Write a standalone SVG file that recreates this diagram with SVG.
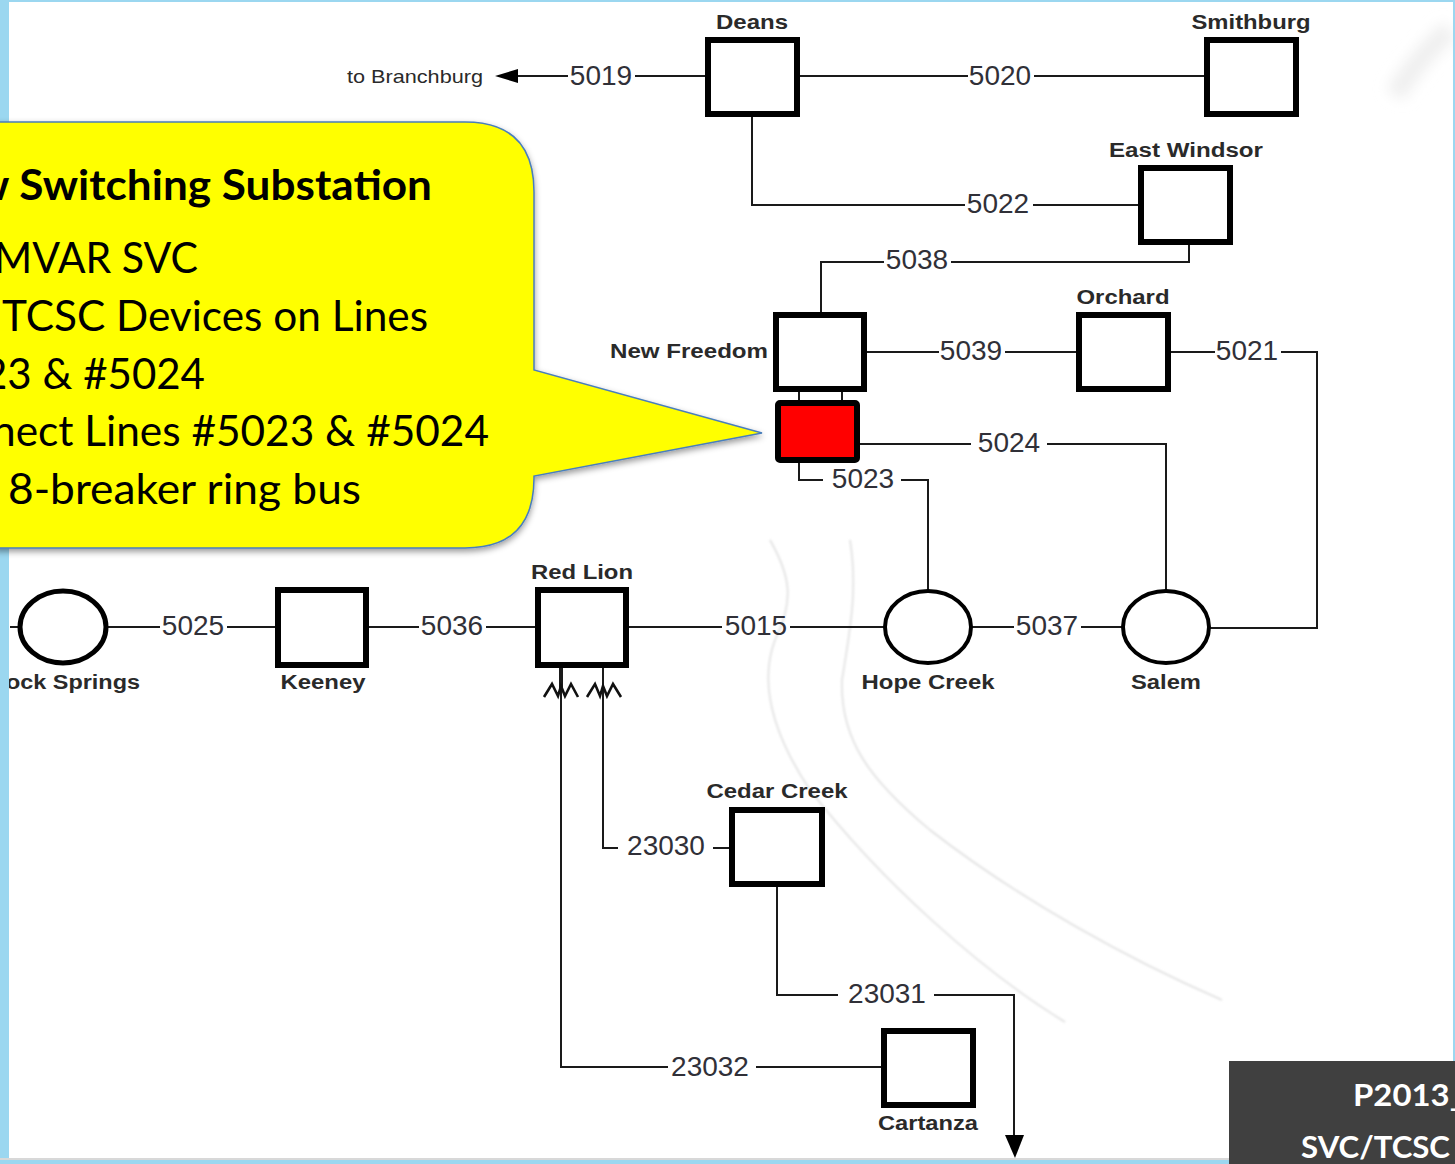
<svg xmlns="http://www.w3.org/2000/svg" width="1455" height="1164" viewBox="0 0 1455 1164">
<style>
.bus{fill:#fff;stroke:#000;stroke-width:6}
.ln{fill:none;stroke:#1a1a1a;stroke-width:2}
.zig{fill:none;stroke:#111;stroke-width:2.6}
.num{font-family:"Liberation Sans",Arial,sans-serif;font-size:28px;fill:#303038;text-anchor:middle}
.name{font-family:"Liberation Sans",Arial,sans-serif;font-size:20px;font-weight:bold;fill:#2a2a2a;text-anchor:middle}
.call{font-family:Lato,"Noto Sans",sans-serif;font-size:42px;fill:#000}
.foot{font-family:Lato,"Noto Sans",sans-serif;font-size:31px;font-weight:bold;fill:#fff}
.smudge{fill:none;stroke:#c9c9c9;stroke-width:1.6;opacity:.6}
</style>
<defs>
<filter id="sh" x="-10%" y="-10%" width="120%" height="120%"><feDropShadow dx="0" dy="3" stdDeviation="3" flood-color="#000" flood-opacity=".4"/></filter>
<filter id="blur" x="-20%" y="-20%" width="140%" height="140%"><feGaussianBlur stdDeviation="1"/></filter>
<filter id="blur2" x="-50%" y="-50%" width="200%" height="200%"><feGaussianBlur stdDeviation="7"/></filter>
</defs>
<rect width="1455" height="1164" fill="#fff"/>
<g id="smudges">
<g filter="url(#blur)">
<path class="smudge" d="M770 540C790 575 795 600 775 640C760 680 770 730 810 790C880 880 980 970 1065 1022"/>
<path class="smudge" d="M850 540C858 590 850 630 842 680C840 740 870 780 930 830C1020 900 1130 960 1222 1000"/>
</g>
<path d="M1395 95Q1420 55 1450 30" fill="none" stroke="#efefef" stroke-width="20" filter="url(#blur2)"/>
</g>
<g id="connectors">
<path class="ln" d="M568 76H510"/>
<path class="ln" d="M635 76H708M797 76H968M1034 76H1207"/>
<path class="ln" d="M752 114V205H965M1033 205H1141"/>
<path class="ln" d="M821 315V262H884M951 262H1189V242"/>
<path class="ln" d="M864 352H939M1005 352H1079"/>
<path class="ln" d="M1168 352H1215M1281 352H1317V628H1210"/>
<path class="ln" d="M858 444H971M1047 444H1166V590"/>
<path class="ln" d="M799 460V480H823M901 480H928V590"/>
<path class="ln" d="M799 389V402M842 389V402"/>
<path class="ln" d="M10 627H19M107 627H160M227 627H278M366 627H419M486 627H538M626 627H722M790 627H884M972 627H1014M1081 627H1122"/>
<path class="ln" d="M561 665V1067H668M756 1067H884"/>
<path class="ln" d="M561 665V690" style="stroke-width:4"/>
<path class="ln" d="M603 665V848H618M713 848H732"/>
<path class="ln" d="M777 884V995H838M934 995H1014V1140"/>
<path d="M1005 1135H1024L1015 1158Z" fill="#000"/>
<path d="M495 76L518 69V83Z" fill="#000"/>
<path class="zig" d="M544 697L552 684L558 696L561 686L565 696L571 684L578 697M587 697L595 684L600 696L603 686L607 696L613 684L621 697"/>
<text class="num" x="601" y="85">5019</text>
<text class="num" x="1000" y="85">5020</text>
<text class="num" x="998" y="213">5022</text>
<text class="num" x="917" y="269">5038</text>
<text class="num" x="971" y="360">5039</text>
<text class="num" x="1247" y="360">5021</text>
<text class="num" x="1009" y="452">5024</text>
<text class="num" x="863" y="488">5023</text>
<text class="num" x="193" y="635">5025</text>
<text class="num" x="452" y="635">5036</text>
<text class="num" x="756" y="635">5015</text>
<text class="num" x="1047" y="635">5037</text>
<text class="num" x="666" y="855">23030</text>
<text class="num" x="887" y="1003">23031</text>
<text class="num" x="710" y="1076">23032</text>
</g>
<g id="node-branchburg"><text x="415" y="83" style="font-family:'Liberation Sans',Arial,sans-serif;font-size:19px;fill:#2a2a2a;text-anchor:middle" textLength="136" lengthAdjust="spacingAndGlyphs">to Branchburg</text></g>
<g id="node-deans"><rect class="bus" x="708" y="40" width="89" height="74"/><text class="name" x="752" y="29" textLength="72" lengthAdjust="spacingAndGlyphs">Deans</text></g>
<g id="node-smithburg"><rect class="bus" x="1207" y="40" width="89" height="74"/><text class="name" x="1251" y="29" textLength="119" lengthAdjust="spacingAndGlyphs">Smithburg</text></g>
<g id="node-east-windsor"><rect class="bus" x="1141" y="168" width="89" height="74"/><text class="name" x="1186" y="157" textLength="154" lengthAdjust="spacingAndGlyphs">East Windsor</text></g>
<g id="node-new-freedom"><rect class="bus" x="776" y="315" width="88" height="74"/><text class="name" x="689" y="358" textLength="158" lengthAdjust="spacingAndGlyphs">New Freedom</text></g>
<g id="node-orchard"><rect class="bus" x="1079" y="315" width="89" height="74"/><text class="name" x="1123" y="304" textLength="93" lengthAdjust="spacingAndGlyphs">Orchard</text></g>
<g id="node-svc"><rect x="778" y="403" width="79" height="57" rx="2" fill="#f00" stroke="#000" stroke-width="6"/></g>
<g id="node-rock-springs"><ellipse class="bus" cx="63" cy="627" rx="43" ry="36" style="stroke-width:5"/><text class="name" x="73" y="689" textLength="134" lengthAdjust="spacingAndGlyphs">ock Springs</text></g>
<g id="node-keeney"><rect class="bus" x="278" y="590" width="88" height="75"/><text class="name" x="323" y="689" textLength="85" lengthAdjust="spacingAndGlyphs">Keeney</text></g>
<g id="node-red-lion"><rect class="bus" x="538" y="590" width="88" height="75"/><text class="name" x="582" y="579" textLength="102" lengthAdjust="spacingAndGlyphs">Red Lion</text></g>
<g id="node-hope-creek"><ellipse class="bus" cx="928" cy="627" rx="43" ry="36" style="stroke-width:4"/><text class="name" x="928" y="689" textLength="133" lengthAdjust="spacingAndGlyphs">Hope Creek</text></g>
<g id="node-salem"><ellipse class="bus" cx="1166" cy="627" rx="43" ry="36" style="stroke-width:4"/><text class="name" x="1166" y="689" textLength="70" lengthAdjust="spacingAndGlyphs">Salem</text></g>
<g id="node-cedar-creek"><rect class="bus" x="732" y="810" width="90" height="74"/><text class="name" x="777" y="798" textLength="141" lengthAdjust="spacingAndGlyphs">Cedar Creek</text></g>
<g id="node-cartanza"><rect class="bus" x="884" y="1031" width="89" height="74"/><text class="name" x="928" y="1130" textLength="100" lengthAdjust="spacingAndGlyphs">Cartanza</text></g>
<g id="frame">
<rect x="0" y="0" width="1455" height="2" fill="#9bd7f0"/>
<rect x="0" y="0" width="9" height="1164" fill="#9bd7f0"/>
<rect x="1453" y="0" width="2" height="1164" fill="#9bd7f0"/>
<rect x="0" y="1158" width="1455" height="2" fill="#d8d8d8"/>
<rect x="0" y="1160" width="1455" height="4" fill="#9bd7f0"/>
</g>
<g id="callout">
<path d="M-5 122H465Q534 122 534 192V370L762 433L534 476V478Q534 548 465 548H-5Z" fill="#ff0" stroke="#4a7ebb" stroke-width="1.5" filter="url(#sh)"/>
<text class="call" x="-26" y="200" style="font-weight:bold" textLength="458" lengthAdjust="spacingAndGlyphs">w Switching Substation</text>
<text class="call" x="-6" y="273" textLength="204" lengthAdjust="spacingAndGlyphs">MVAR SVC</text>
<text class="call" x="2" y="331" textLength="426" lengthAdjust="spacingAndGlyphs">TCSC Devices on Lines</text>
<text class="call" x="-17" y="389" textLength="222" lengthAdjust="spacingAndGlyphs">23 &amp; #5024</text>
<text class="call" x="-8" y="446" textLength="497" lengthAdjust="spacingAndGlyphs">nect Lines #5023 &amp; #5024</text>
<text class="call" x="8" y="504" textLength="353" lengthAdjust="spacingAndGlyphs">8-breaker ring bus</text>
</g>
<g id="footer">
<rect x="1229" y="1061" width="226" height="103" fill="#404040"/>
<text class="foot" x="1353" y="1106" textLength="112" lengthAdjust="spacingAndGlyphs">P2013_</text>
<text class="foot" x="1301" y="1158" textLength="149" lengthAdjust="spacingAndGlyphs">SVC/TCSC</text>
</g>
</svg>
